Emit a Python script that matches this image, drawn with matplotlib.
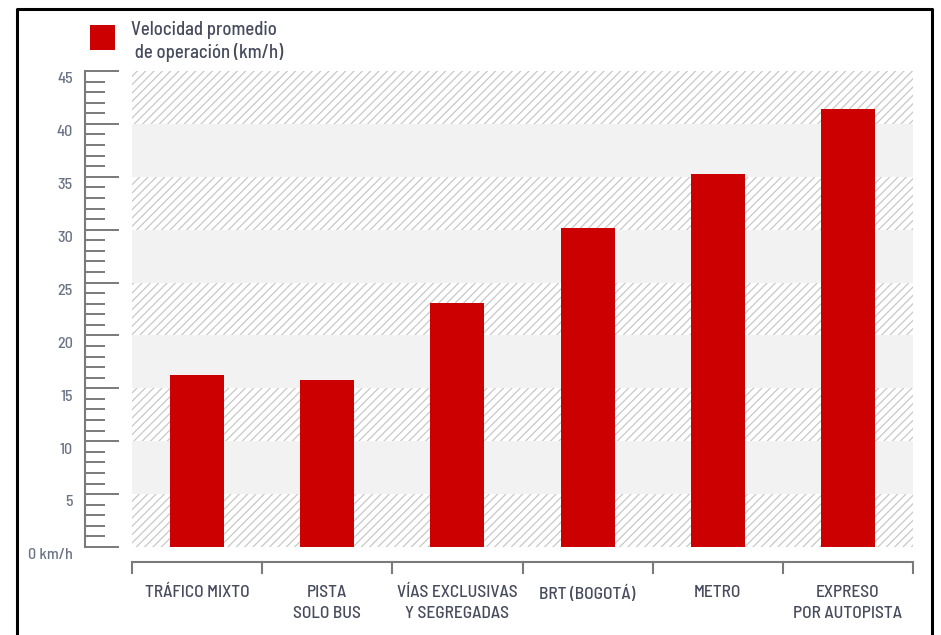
import matplotlib
matplotlib.use('Agg')
import matplotlib.pyplot as plt
from matplotlib.patches import Rectangle
from matplotlib.ticker import MultipleLocator

plt.rcParams['font.family'] = ['Barlow Semi Condensed', 'DejaVu Sans']
plt.rcParams['hatch.linewidth'] = 0.9

# data
categories = ['TRÁFICO MIXTO', 'PISTA\nSOLO BUS', 'VÍAS EXCLUSIVAS\nY SEGREGADAS',
              'BRT (BOGOTÁ)', 'METRO', 'EXPRESO\nPOR AUTOPISTA']
speeds = [16.3, 15.8, 23.1, 30.2, 35.3, 41.4]
y_ticks = [0, 5, 10, 15, 20, 25, 30, 35, 40, 45]
y_labels = ['0 km/h', '5', '10', '15', '20', '25', '30', '35', '40', '45']
legend_label = 'Velocidad promedio\n de operación (km/h)'

red = '#cc0000'
text_col = '#474b5c'
tick_col = '#6b7386'
axis_col = '#7a7a7a'

W, H = 941, 635
fig = plt.figure(figsize=(W / 100, H / 100), dpi=100)
ax = fig.add_axes([132 / W, (H - 547) / H, (913 - 132) / W, 476 / H])

n = len(categories)
ax.set_xlim(0, n)
ax.set_ylim(0, 45)

# alternating bands: hatched / light gray
for k in range(0, 45, 5):
    if (k // 5) % 2 == 0:
        ax.axhspan(k, k + 5, facecolor='white', edgecolor='#c8c8c8',
                   hatch='////', linewidth=0, zorder=0)
    else:
        ax.axhspan(k, k + 5, facecolor='#f2f2f2', linewidth=0, zorder=0)

xs = [i + 0.5 for i in range(n)]
ax.bar(xs, speeds, width=0.415, color=red, zorder=2)

for s in ['top', 'right', 'bottom']:
    ax.spines[s].set_visible(False)
ax.spines['left'].set_position(('outward', 47 * 0.72))
ax.spines['left'].set_bounds(0, 45)
ax.spines['left'].set_color(axis_col)
ax.spines['left'].set_linewidth(1.5)

ax.yaxis.set_major_locator(MultipleLocator(5))
ax.yaxis.set_minor_locator(MultipleLocator(1))
ax.tick_params(axis='y', which='major', direction='in', length=34 * 0.72,
               width=1.4, color=axis_col, labelleft=False)
ax.tick_params(axis='y', which='minor', direction='in', length=20 * 0.72,
               width=1.4, color=axis_col)
ax.set_xticks([])

ytrans = ax.get_yaxis_transform()
for v, lab in zip(y_ticks, y_labels):
    ax.annotate(lab, xy=(-59 / 781, v), xycoords=ytrans, xytext=(0, -6),
                textcoords='offset points', ha='right', va='center',
                fontsize=11.5, fontweight='medium', color=tick_col,
                annotation_clip=False)

# category bracket under the plot
xtrans = ax.get_xaxis_transform()
ax.plot([0, n], [-15 / 476, -15 / 476], transform=xtrans, color=axis_col,
        lw=1.5, clip_on=False, solid_capstyle='butt')
for b in range(n + 1):
    ax.plot([b, b], [-15 / 476, -26 / 476], transform=xtrans, color=axis_col,
            lw=1.5, clip_on=False)
for x, lab in zip(xs, categories):
    ax.text(x, -38 / 476, lab, transform=xtrans, ha='center', va='top',
            fontsize=12.5, fontweight='medium', color=text_col,
            linespacing=1.5)

# legend
fig.patches.append(Rectangle((90 / W, 1 - 50 / H), 25 / W, 25 / H,
                             transform=fig.transFigure, facecolor=red,
                             edgecolor='none'))
fig.text(131 / W, 1 - 21 / H, legend_label, ha='left', va='top',
         fontsize=13.5, fontweight='medium', color=text_col, linespacing=1.3)

# outer frame (open at the bottom)
fig.add_artist(plt.Line2D([17 / W, 17 / W, 932 / W, 932 / W],
                          [-0.05, 1 - 9 / H, 1 - 9 / H, -0.05],
                          transform=fig.transFigure, color='black', lw=2.2))

fig.savefig('out.png', dpi=100)
